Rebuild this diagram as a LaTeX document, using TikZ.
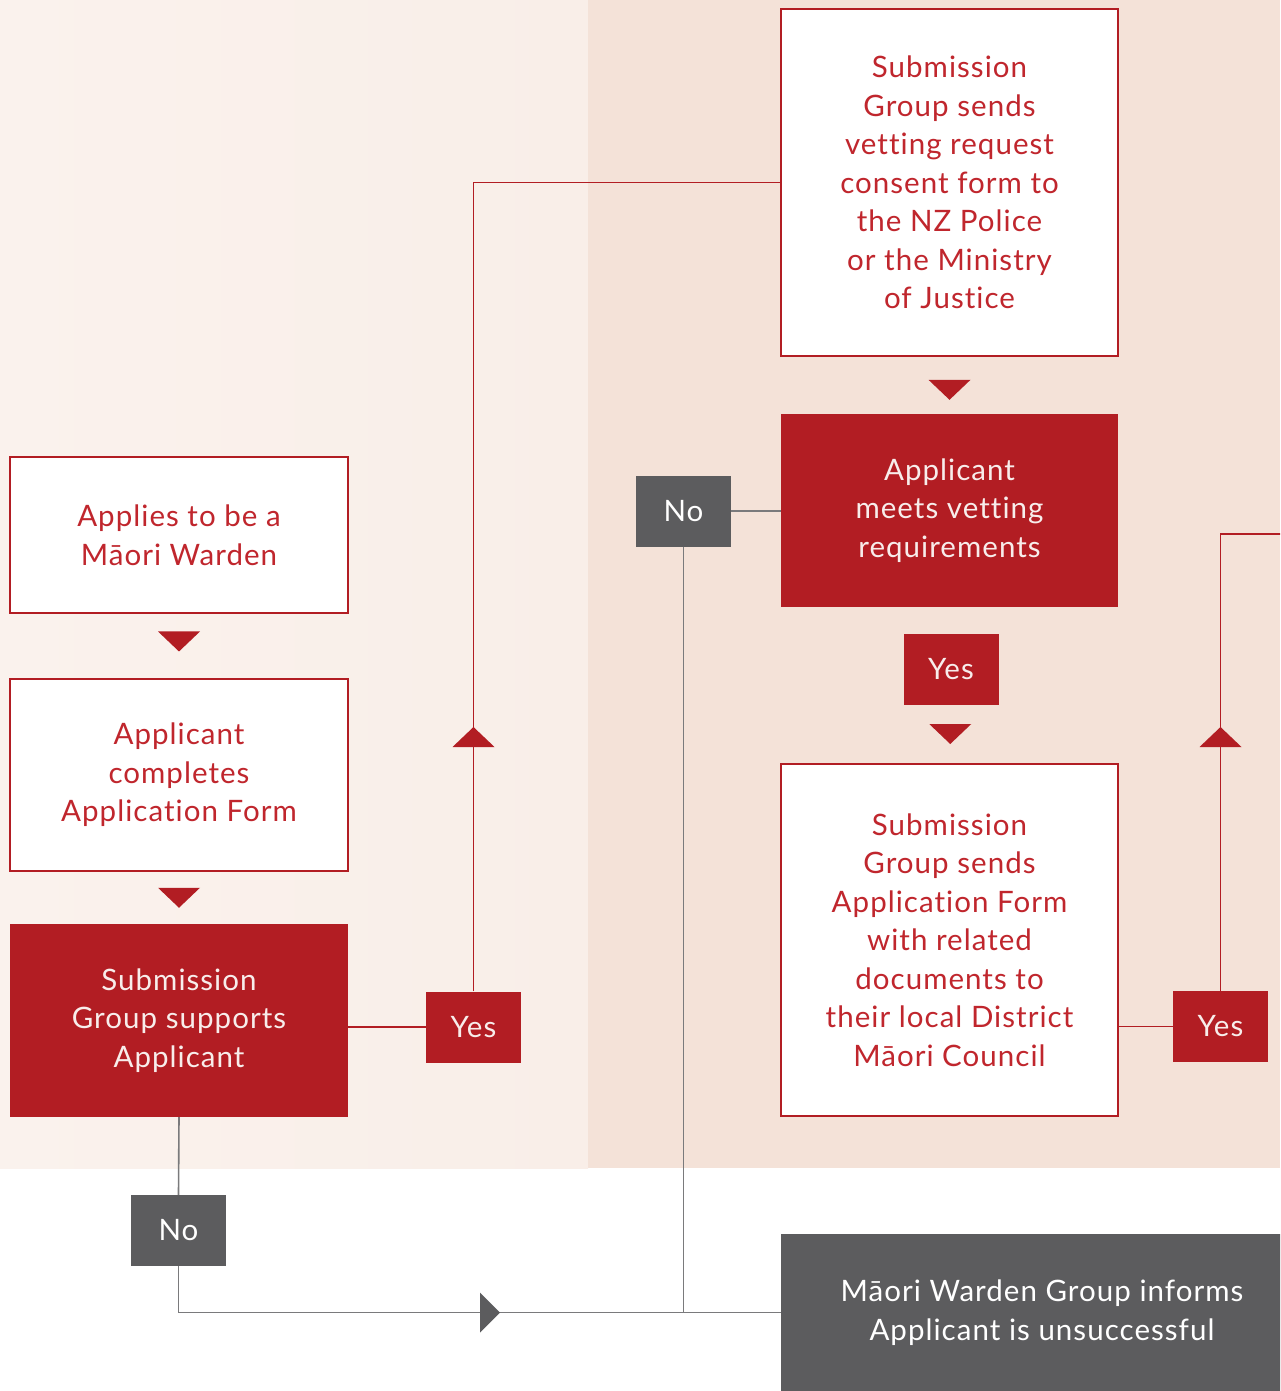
\documentclass[tikz,border=0pt]{standalone}
\usepackage{fontspec}
\setmainfont{Lato}[Ligatures=NoCommon, LetterSpace=3.5]
\usetikzlibrary{calc}
\definecolor{mred}{HTML}{B21D23}
\definecolor{tred}{HTML}{C0262D}
\definecolor{mgray}{HTML}{5C5C5E}
\definecolor{lgray}{HTML}{7A7A7C}
\definecolor{bgl}{HTML}{FAF2ED}
\definecolor{bglr}{HTML}{F9EEE8}
\definecolor{bgr}{HTML}{F4E2D8}
\definecolor{ltext}{HTML}{F8EDEB}
\begin{document}
\begin{tikzpicture}[x=1pt,y=-1pt,
  txt/.style={align=center, inner sep=0pt, font=\fontsize{29.5}{38.5}\selectfont},
  box/.style={txt, draw=mred, line width=1.4pt, fill=white, text=tred},
  redbox/.style={txt, fill=mred, text=ltext},
  graybox/.style={txt, fill=mgray, text=white},
  small/.style={minimum width=95pt, minimum height=71pt},
  rline/.style={draw=mred, line width=1.6pt},
  gline/.style={draw=lgray, line width=1.6pt},
  pics/tridown/.style={code={\fill[mred] (-21,-10) -- (21,-10) -- (0,10) -- cycle;}},
  pics/triup/.style={code={\fill[mred] (-21,10) -- (21,10) -- (0,-10) -- cycle;}},
  pics/triright/.style={code={\fill[mgray] (-10,-20) -- (-10,20) -- (10,0) -- cycle;}}
]
\useasboundingbox (0,0) rectangle (1280,1391);
\clip (0,0) rectangle (1280,1391);
% background
\fill[white] (0,0) rectangle (1280,1391);
\shade[left color=bgl, right color=bglr] (0,0) rectangle (588,1168);
\fill[bgr] (588,0) rectangle (1280,1168);

% nodes
\node[box, minimum width=338pt, minimum height=156pt] (A) at (179,535) {Applies to be a\\Māori Warden};
\node[box, minimum width=338pt, minimum height=192pt] (B) at (179,775) {Applicant\\completes\\Application Form};
\node[redbox, minimum width=338pt, minimum height=193pt] (C) at (179,1020.5) {Submission\\Group supports\\Applicant};
\node[box, minimum width=337pt, minimum height=347pt] (D) at (949.5,182.5) {Submission\\Group sends\\vetting request\\consent form to\\the NZ Police\\or the Ministry\\of Justice};
\node[redbox, minimum width=337pt, minimum height=193pt] (E) at (949.5,510.5) {Applicant\\meets vetting\\requirements};
\node[box, minimum width=337pt, minimum height=352pt] (F) at (949.5,940) {Submission\\Group sends\\Application Form\\with related\\documents to\\their local District\\Māori Council};
\node[graybox, minimum width=522pt, minimum height=157pt] (G) at (1042,1312.5) {Māori Warden Group informs\\Applicant is unsuccessful};
\node[redbox, small] (Y1) at (473.5,1027) {Yes};
\node[redbox, small] (Y2) at (951,669) {Yes};
\node[redbox, small] (Y3) at (1220.5,1026.5) {Yes};
\node[graybox, small] (N2) at (683.5,511) {No};
\node[graybox, small] (N1) at (178.5,1230.5) {No};
\coordinate (exitR) at (1300,534);

% connectors
\path (A.south) -- (B.north) coordinate[pos=0.43] (t1);
\pic at (t1) {tridown};
\path (B.south) -- (C.north) coordinate[midway] (t2);
\pic at (t2) {tridown};
\path (D.south) -- (E.north) coordinate[pos=0.58] (t3);
\pic at (t3) {tridown};
\path (Y2.south) -- (F.north) coordinate[midway] (t4);
\pic at (t4) {tridown};

\draw[rline] (C.east |- Y1.west) -- (Y1.west);
\draw[rline] (Y1.north) |- (D.west);
\pic at (Y1.north |- 0,737) {triup};

\draw[rline] (F.east |- Y3.west) -- (Y3.west);
\draw[rline] (Y3.north) |- (exitR);
\pic at (Y3.north |- 0,737) {triup};

\draw[gline] (E.west |- N2.east) -- (N2.east);
\draw[gline] (N2.south) -- (N2.south |- G.west);

\draw[gline] (C.south) -- (N1.north);
\draw[gline] (N1.south) |- (G.west);
\pic at (490,0 |- G.west) {triright};
\end{tikzpicture}
\end{document}
